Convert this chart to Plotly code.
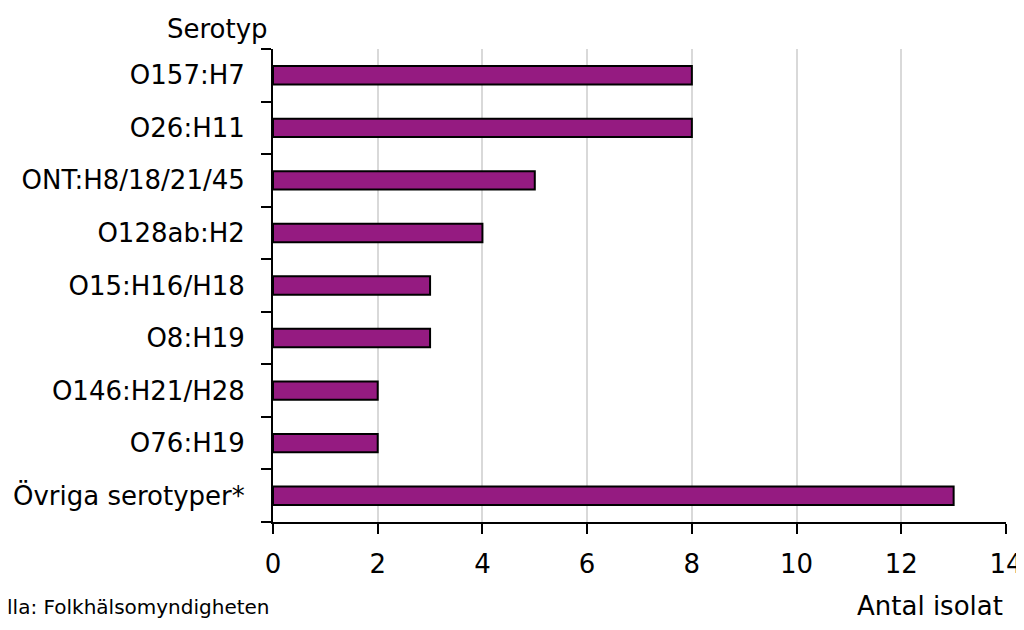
import plotly.graph_objects as go

categories = ["O157:H7", "O26:H11", "ONT:H8/18/21/45", "O128ab:H2", "O15:H16/H18",
              "O8:H19", "O146:H21/H28", "O76:H19", "Övriga serotyper*"]
values = [8, 8, 5, 4, 3, 3, 2, 2, 13]
x_ticks = [0, 2, 4, 6, 8, 10, 12, 14]

FONT = "DejaVu Sans"
OFF = 8  # page body margin
W, H = 1024, 630 - 2 * OFF
L, R, T, B = 273 - OFF, W - (1006 - OFF), 49 - OFF, H - (522 - OFF)
pw, ph = W - L - R, H - T - B

def px(sx):
    return (sx - OFF - L) / pw

def py(sy):
    return (H - B - (sy - OFF)) / ph

fig = go.Figure(go.Bar(
    x=values, y=categories, orientation="h",
    marker=dict(color="#951B81", line=dict(color="black", width=2)),
    width=0.35,
))

fig.update_layout(
    template="none",
    width=W, height=H,
    margin=dict(l=L, r=R, t=T, b=B, autoexpand=False),
    plot_bgcolor="white", paper_bgcolor="white",
    showlegend=False,
    font=dict(family=FONT, color="black", size=26),
    xaxis=dict(range=[0, 14], tickvals=x_ticks, showgrid=True, gridcolor="#d9d9d9",
               gridwidth=1.5, showline=True, linecolor="black", linewidth=2,
               ticks="outside", ticklen=10, tickwidth=2, tickcolor="black",
               tickfont=dict(size=26), ticklabelstandoff=8, zeroline=False,
               ticklabeloverflow="allow", automargin=False, fixedrange=True),
    yaxis=dict(categoryorder="array", categoryarray=categories[::-1],
               autorange=False, range=[-0.5, len(categories) - 0.5],
               showline=True, linecolor="black", linewidth=2,
               ticks="outside", ticklen=10, tickwidth=2, tickcolor="black",
               tickson="boundaries", showgrid=False, tickfont=dict(size=26),
               ticklabelstandoff=21, automargin=False, fixedrange=True),
    annotations=[
        dict(text="Serotyp", x=px(217), y=py(29), xref="paper", yref="paper",
             showarrow=False, xanchor="center", yanchor="middle", font=dict(size=26)),
        dict(text="Antal isolat", x=px(930), y=py(606), xref="paper", yref="paper",
             showarrow=False, xanchor="center", yanchor="middle", font=dict(size=26)),
        dict(text="Källa: Folkhälsomyndigheten", x=px(272), y=py(607), xref="paper", yref="paper",
             showarrow=False, xanchor="right", yanchor="middle", font=dict(size=20)),
    ],
)

fig.write_html("out.html")
